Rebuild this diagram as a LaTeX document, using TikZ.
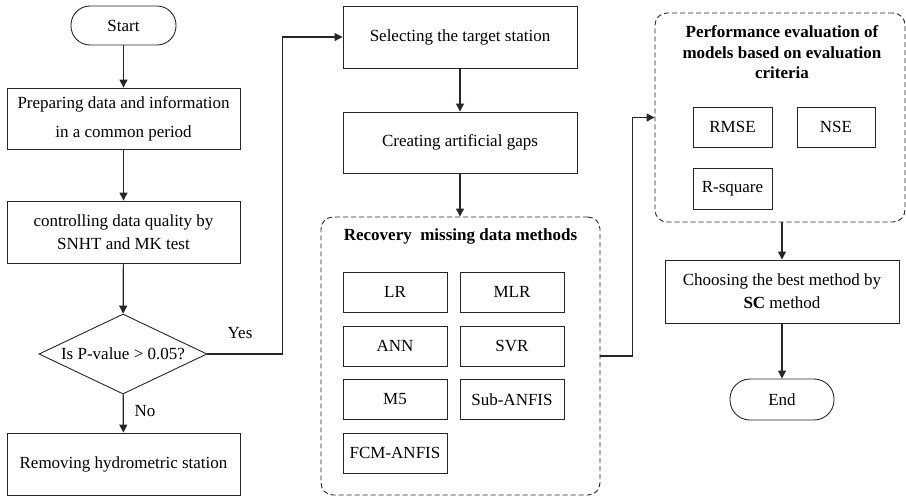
\documentclass[tikz,border=0pt]{standalone}
\usepackage{fontspec}
\setmainfont{Liberation Serif}
\usetikzlibrary{shapes.geometric,arrows.meta,positioning}
\tikzset{
  base/.style={draw=black!85, line width=0.9pt, inner sep=0pt, align=center, font=\fontsize{17}{23}\selectfont},
  box/.style={base, rectangle},
  term/.style={base, rectangle, rounded corners=19pt},
  smallbox/.style={base, rectangle, minimum width=104pt, minimum height=40pt},
  group/.style={draw=black!85, line width=0.9pt, dash pattern=on 5pt off 3pt, rounded corners=12pt, inner sep=0pt},
  grouptitle/.style={inner sep=0pt, align=center, font=\fontsize{17}{20.5}\selectfont\bfseries},
  arr/.style={draw=black!85, line width=1.2pt, -{Triangle[length=8pt,width=8pt]}},
  lbl/.style={inner sep=0pt, font=\fontsize{17}{20}\selectfont},
}
\begin{document}
\begin{tikzpicture}[x=1pt,y=-1pt]
\useasboundingbox (0,0) rectangle (906,496);
% left column
\node[term, minimum width=105pt, minimum height=39pt] (start) at (123.5,25.5) {Start};
\node[box, minimum width=233pt, minimum height=61pt, font=\fontsize{17}{29}\selectfont] (prep) at (123.5,118.5) {Preparing data and information\\in a common period};
\node[box, minimum width=233pt, minimum height=62pt] (ctrl) at (123.5,232) {controlling data quality by\\SNHT and MK test};
\node[base, diamond, aspect=2.1, minimum width=168pt, minimum height=80pt] (dec) at (123,354) {Is P-value > 0.05?};
\node[box, minimum width=233pt, minimum height=62pt] (rem) at (123.5,464) {Removing hydrometric station};
% middle column
\node[box, minimum width=234pt, minimum height=62pt] (sel) at (460,37) {Selecting the target station};
\node[box, minimum width=234pt, minimum height=61pt] (cre) at (460,142.5) {Creating artificial gaps};
\node[group, minimum width=279pt, minimum height=278pt] (rec) at (460.5,356) {};
\node[grouptitle] (rectitle) at (460.5,236) {Recovery~~missing data methods};
\node[smallbox] (lr) at (395,292) {LR};
\node[smallbox] (mlr) at (512,292) {MLR};
\node[smallbox] (ann) at (395,346) {ANN};
\node[smallbox] (svr) at (512,346) {SVR};
\node[smallbox] (m5) at (395,399.5) {M5};
\node[smallbox] (sub) at (512,399.5) {Sub-ANFIS};
\node[smallbox] (fcm) at (395,453) {FCM-ANFIS};
% right column
\node[group, minimum width=250pt, minimum height=209pt] (perf) at (780,117.5) {};
\node[grouptitle] (perftitle) at (782,52.5) {Performance evaluation of\\models based on evaluation\\criteria};
\node[smallbox, minimum width=79pt] (rmse) at (732.5,127) {RMSE};
\node[smallbox, minimum width=78pt] (nse) at (836,127) {NSE};
\node[smallbox, minimum width=79pt, minimum height=41pt] (rsq) at (732.5,188.5) {R-square};
\node[box, minimum width=234pt, minimum height=63pt] (choose) at (782,291.5) {Choosing the best method by\\\textbf{SC} method};
\node[term, minimum width=104pt, minimum height=41pt, rounded corners=20pt] (end) at (782,399.5) {End};
% connectors
\draw[arr] (start) -- (prep);
\draw[arr] (prep) -- (ctrl);
\draw[arr] (ctrl) -- (dec);
\draw[arr] (dec) -- (rem);
\node[lbl] (no) at (145,411) {No};
\draw[arr] (dec.east) -- ++(75,0) |- (sel.west);
\node[lbl] (yes) at (240,333) {Yes};
\draw[arr] (sel) -- (cre);
\draw[arr] (cre) -- (rec.north -| cre.south);
\draw[arr] (rec.east) -- ++(32,0) |- (perf.west);
\draw[arr] (perf.south -| choose.north) -- (choose.north);
\draw[arr] (choose) -- (end);
\end{tikzpicture}
\end{document}
